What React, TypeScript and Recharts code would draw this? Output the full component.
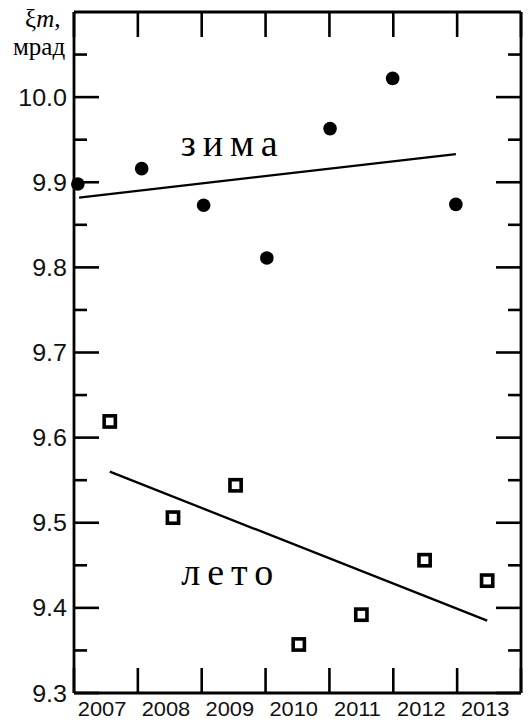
import { ReferenceDot, Scatter, ScatterChart, XAxis, YAxis } from "recharts";

// Подписи лет и позиции (доли года по оси X)
const years = ["2007", "2008", "2009", "2010", "2011", "2012", "2013"];
const yearLabelPos = [0.44, 1.44, 2.44, 3.44, 4.44, 5.44, 6.44];
const xGrid = [0, 1, 2, 3, 4, 5, 6, 7];
const yTicks = [
  9.3, 9.35, 9.4, 9.45, 9.5, 9.55, 9.6, 9.65, 9.7, 9.75, 9.8, 9.85, 9.9, 9.95,
  10.0, 10.05,
];

// зима — точки
const winterX = [0.06, 1.06, 2.03, 3.02, 4.01, 4.99, 5.98];
const winterY = [9.898, 9.916, 9.873, 9.811, 9.963, 10.022, 9.874];
// лето — квадраты
const summerX = [0.56, 1.55, 2.53, 3.52, 4.5, 5.49, 6.47];
const summerY = [9.619, 9.506, 9.544, 9.357, 9.392, 9.456, 9.432];

// линии тренда
const winterTrendX = [0.08, 5.98];
const winterTrendY = [9.882, 9.933];
const summerTrendX = [0.56, 6.47];
const summerTrendY = [9.56, 9.385];

const toPoints = (xs: number[], ys: number[]) =>
  xs.map((x, i) => ({ x, y: ys[i] }));

const SANS = "'Liberation Sans', Arial, sans-serif";
const SERIF = "'Liberation Serif', 'Times New Roman', serif";
const INK = "#000";

const isMajor = (v: number) => Math.abs(v * 10 - Math.round(v * 10)) < 1e-6;

function BottomTick(props: any) {
  const { x, y, payload } = props;
  const v = payload.value;
  if (xGrid.includes(v)) {
    return <line x1={x} y1={y} x2={x} y2={y - 25} stroke={INK} strokeWidth={2.6} />;
  }
  const i = yearLabelPos.indexOf(v);
  return (
    <text
      transform={`translate(${x},${y + 23}) scale(1.12,1)`}
      textAnchor="middle"
      fontFamily={SANS}
      fontSize={19.5}
      fill="#111"
    >
      {years[i]}
    </text>
  );
}

function TopTick(props: any) {
  const { x, y } = props;
  return <line x1={x} y1={y} x2={x} y2={y + 25} stroke={INK} strokeWidth={2.6} />;
}

function LeftTick(props: any) {
  const { x, y, payload } = props;
  const v = payload.value;
  const major = isMajor(v);
  return (
    <g>
      <line x1={x} y1={y} x2={x + (major ? 25 : 13)} y2={y} stroke={INK} strokeWidth={2.6} />
      {major && (
        <text
          transform={`translate(${x - 7},${y + 8.5}) scale(1.09,1)`}
          textAnchor="end"
          fontFamily={SANS}
          fontSize={23}
          fill="#111"
        >
          {v.toFixed(1)}
        </text>
      )}
    </g>
  );
}

function RightTick(props: any) {
  const { x, y, payload } = props;
  const major = isMajor(payload.value);
  return <line x1={x} y1={y} x2={x - (major ? 25 : 13)} y2={y} stroke={INK} strokeWidth={2.6} />;
}

const seasonLabel = (text: string) => (p: any) => (
  <text
    x={p.viewBox.x}
    y={p.viewBox.y}
    fontFamily={SERIF}
    fontSize={38}
    letterSpacing={7}
    fill={INK}
  >
    {text}
  </text>
);

export default function App() {
  return (
    <div style={{ position: "absolute", left: 0, top: 0, width: 532, height: 722, background: "#fff" }}>
      <ScatterChart width={532} height={722} margin={{ top: 11, right: 10, bottom: 0, left: 0 }}>
        <XAxis
          dataKey="x"
          type="number"
          domain={[0, 7]}
          ticks={[...xGrid, ...yearLabelPos].sort((a, b) => a - b)}
          interval={0}
          height={29}
          tickSize={0}
          tickMargin={0}
          tickLine={false}
          axisLine={{ stroke: INK, strokeWidth: 2.8 }}
          tick={<BottomTick />}
        />
        <XAxis
          xAxisId="top"
          dataKey="x"
          orientation="top"
          type="number"
          domain={[0, 7]}
          ticks={xGrid}
          interval={0}
          height={1}
          tickSize={0}
          tickMargin={0}
          tickLine={false}
          axisLine={{ stroke: INK, strokeWidth: 2.8 }}
          tick={<TopTick />}
        />
        <YAxis
          dataKey="y"
          type="number"
          domain={[9.3, 10.1]}
          ticks={yTicks}
          interval={0}
          width={74}
          tickSize={0}
          tickMargin={0}
          tickLine={false}
          axisLine={{ stroke: INK, strokeWidth: 2.8 }}
          tick={<LeftTick />}
        />
        <YAxis
          yAxisId="right"
          dataKey="y"
          orientation="right"
          type="number"
          domain={[9.3, 10.1]}
          ticks={yTicks}
          interval={0}
          width={1}
          tickSize={0}
          tickMargin={0}
          tickLine={false}
          axisLine={{ stroke: INK, strokeWidth: 2.8 }}
          tick={<RightTick />}
        />
        <Scatter
          data={toPoints(winterTrendX, winterTrendY)}
          line={{ stroke: INK, strokeWidth: 2.3 }}
          shape={() => <g />}
          isAnimationActive={false}
        />
        <Scatter
          xAxisId="top"
          yAxisId="right"
          data={toPoints(summerTrendX, summerTrendY)}
          line={{ stroke: INK, strokeWidth: 2.3 }}
          shape={() => <g />}
          isAnimationActive={false}
        />
        <Scatter
          data={toPoints(winterX, winterY)}
          shape={(p: any) => <circle cx={p.cx} cy={p.cy} r={6.8} fill={INK} />}
          isAnimationActive={false}
        />
        <Scatter
          data={toPoints(summerX, summerY)}
          shape={(p: any) => (
            <rect x={p.cx - 5.6} y={p.cy - 5.6} width={11.2} height={11.2} fill="#fff" stroke={INK} strokeWidth={3.6} />
          )}
          isAnimationActive={false}
        />
        <ReferenceDot x={1.67} y={9.931} r={0} stroke="none" label={{ content: seasonLabel("зима") }} />
        <ReferenceDot x={1.68} y={9.4265} r={0} stroke="none" label={{ content: seasonLabel("лето") }} />
      </ScatterChart>
      <svg width={80} height={70} style={{ position: "absolute", left: 0, top: 0 }}>
        <text x={25} y={27} fontFamily={SERIF} fontSize={25} fill={INK}>
          ξ<tspan fontStyle="italic">m</tspan>,
        </text>
        <text x={13} y={55} fontFamily={SERIF} fontSize={25} fill={INK}>
          мрад
        </text>
      </svg>
    </div>
  );
}
